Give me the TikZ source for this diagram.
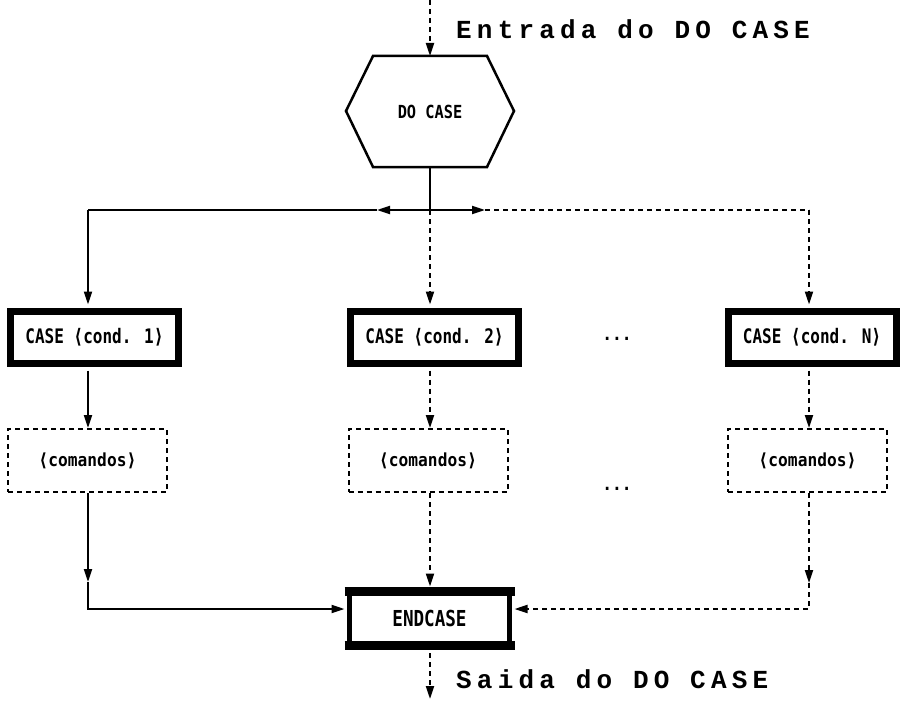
\documentclass[tikz,border=0pt]{standalone}
\usepackage{fontspec}
\usepackage{graphicx}
\usetikzlibrary{arrows.meta}
\newfontfamily\lblfont{DejaVu Sans Mono}
\newfontfamily\wordfont{Liberation Mono}[LetterSpace=20]
\newcommand\boxtext[3]{\scalebox{#1}[1]{\fontsize{#2}{#2}\selectfont\lblfont\bfseries #3}}
\newcommand\bigword[1]{{\fontsize{26}{26}\selectfont\wordfont\bfseries #1}}
\begin{document}
\begin{tikzpicture}[x=1pt,y=-1pt,
  conn/.style={line width=2pt},
  dsh/.style={line width=2pt, dash pattern=on 5pt off 4pt},
  tip/.style={-{Triangle[length=13pt,width=8pt]}},
  casebox/.style={draw, line width=7pt, minimum width=168pt, minimum height=52pt, inner sep=0pt},
  cmdbox/.style={draw, line width=2pt, dash pattern=on 5pt off 4pt, minimum width=159pt, minimum height=63pt, inner sep=0pt},
  endbox/.style={draw, line width=5pt, minimum width=160pt, minimum height=53pt, inner sep=0pt},
  plain/.style={inner sep=0pt}]
\useasboundingbox (0,0) rectangle (900,701);

% hexagon DO CASE
\coordinate (hexN) at (430,56);
\coordinate (hexS) at (430,167);
\draw[line width=2.5pt, line join=miter] (373,56) -- (487,56) -- (514,111) -- (487,167) -- (373,167) -- (346,111) -- cycle;
\node[plain] (docase) at (430,112) {\boxtext{0.85}{18}{DO CASE}};

% case boxes
\node[casebox] (case1) at (94.5,337.5) {\boxtext{0.8}{20}{CASE ⟨cond. 1⟩}};
\node[casebox] (case2) at (434.5,337.5) {\boxtext{0.8}{20}{CASE ⟨cond. 2⟩}};
\node[casebox] (caseN) at (812,337.5) {\boxtext{0.8}{20}{CASE ⟨cond. N⟩}};

% command boxes
\node[cmdbox] (cmd1) at (87.5,460.5) {\boxtext{0.9}{18}{⟨comandos⟩}};
\node[cmdbox] (cmd2) at (428,460.5) {\boxtext{0.9}{18}{⟨comandos⟩}};
\node[cmdbox] (cmdN) at (807.5,460.5) {\boxtext{0.9}{18}{⟨comandos⟩}};

% ellipses
\node[plain] (dots1) at (617,339) {\boxtext{0.9}{18}{...}};
\node[plain] (dots2) at (617,489) {\boxtext{0.9}{18}{...}};

% ENDCASE
\node[endbox] (end) at (429.5,618) {\boxtext{0.8}{22}{ENDCASE}};
\draw[line width=9pt] ([xshift=-2.5pt,yshift=-2pt]end.north west) -- ([xshift=2.5pt,yshift=-2pt]end.north east);
\draw[line width=9pt] ([xshift=-2.5pt,yshift=2pt]end.south west) -- ([xshift=2.5pt,yshift=2pt]end.south east);

% texts
\node[plain, anchor=base west] (entry) at (456,39) {\bigword{Entrada do DO CASE}};
\node[plain, anchor=base west] (exit) at (456,688) {\bigword{Saida do DO CASE}};

% coordinates
\coordinate (top) at (430,0);
\coordinate (split) at (430,210);
\coordinate (larr) at (377,210);
\coordinate (rarr) at (485,210);
\coordinate (lcorner) at (88,210);
\coordinate (rcorner) at (809,210);
\coordinate (lmid) at (88,582);
\coordinate (rmid) at (809,583);
\coordinate (lbot) at (88,609);
\coordinate (rbot) at (809,609);
\coordinate (bottom) at (430,699);

% connectors
\draw[dsh,tip] (top) -- (hexN);
\draw[conn] (hexS) -- (split);
\draw[conn,tip] (split) -- (larr);
\draw[conn] (larr) -- (lcorner);
\draw[conn,tip,shorten >=3.5pt] (lcorner) -- (lcorner |- case1.north);
\draw[conn,tip] (split) -- (rarr);
\draw[dsh] (rarr) -- (rcorner);
\draw[dsh,tip,shorten >=3.5pt] (rcorner) -- (rcorner |- caseN.north);
\draw[dsh,tip,shorten >=3.5pt] (split) -- (split |- case2.north);

\draw[conn,tip,shorten <=3.5pt] (lcorner |- case1.south) -- (lcorner |- cmd1.north);
\draw[dsh,tip,shorten <=3.5pt] (split |- case2.south) -- (split |- cmd2.north);
\draw[dsh,tip,shorten <=3.5pt] (rcorner |- caseN.south) -- (rcorner |- cmdN.north);

\draw[conn,tip] (lcorner |- cmd1.south) -- (lmid);
\draw[conn,tip,shorten >=2.5pt] (lmid) -- (lbot) -- (lbot -| end.west);
\draw[dsh,tip,shorten >=2.5pt] (split |- cmd2.south) -- (split |- end.north);
\draw[dsh,tip] (rcorner |- cmdN.south) -- (rmid);
\draw[dsh,tip,shorten >=2.5pt] (rmid) -- (rbot) -- (rbot -| end.east);
\draw[dsh,tip,shorten <=6pt] (split |- end.south) -- (bottom);
\end{tikzpicture}
\end{document}
